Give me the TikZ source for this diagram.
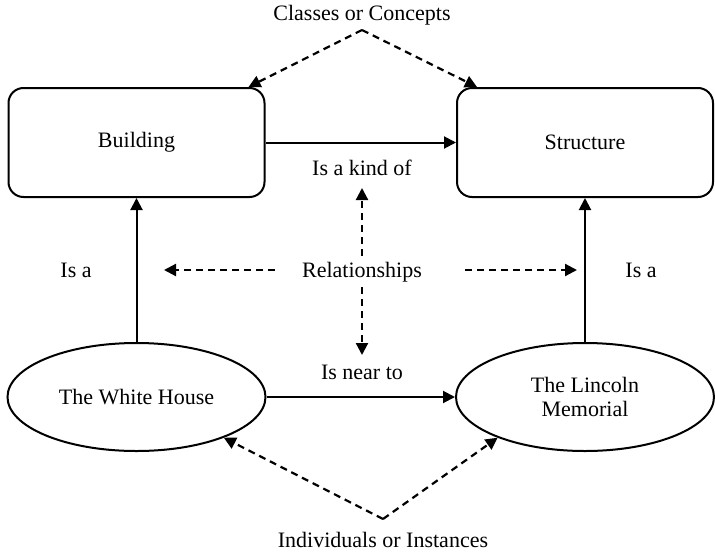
\documentclass[tikz,border=0pt]{standalone}
\usepackage{fontspec}
\setmainfont{Liberation Serif}
\usetikzlibrary{arrows.meta,shapes.geometric}
\begin{document}
\begin{tikzpicture}[x=1pt,y=-1pt,
  every node/.style={font=\fontsize{22}{24}\selectfont},
  concept/.style={draw, line width=2pt, rounded corners=15pt,
    minimum width=256pt, minimum height=109pt, inner sep=0pt},
  instance/.style={draw, ellipse, line width=2pt, minimum width=258pt,
    minimum height=108pt, inner sep=0pt, align=center},
  tag/.style={inner sep=0pt, anchor=base},
  link/.style={line width=2pt, -{Triangle[length=12pt,width=12pt]}},
  hint/.style={line width=2.2pt, dash pattern=on 7pt off 5pt,
    -{Triangle[length=12pt,width=12pt]}},
]
\useasboundingbox (0,0) rectangle (715,552);

% classes
\node[concept] (bld) at (136.5,142.5) {Building};
\node[concept] (str) at (585,142.5) {Structure};

% instances
\node[instance] (wh) at (136.5,397) {The White House};
\node[instance] (lm) at (585,397) {The Lincoln\\Memorial};

% labels
\node[tag] (cls)  at (362,20)  {Classes or Concepts};
\node[tag] (kind) at (362,175) {Is a kind of};
\node[tag] (rel)  at (362,277) {Relationships};
\node[tag] (isaL) at (76,277)  {Is a};
\node[tag] (isaR) at (641,277) {Is a};
\node[tag] (near) at (362,379) {Is near to};
\node[tag] (ind)  at (383,547) {Individuals or Instances};

% free ends of the dashed pointers
\coordinate (clsapex) at (362,30);
\coordinate (indapex) at (383,519);
\coordinate (relN0) at (362,256);
\coordinate (relN1) at (362,188);
\coordinate (relS0) at (362,287);
\coordinate (relS1) at (362,355);
\coordinate (relW0) at (275,270);
\coordinate (relW1) at (164,270);
\coordinate (relE0) at (465,270);
\coordinate (relE1) at (577,270);

% relations
\draw[link] (bld.east) -- (str.west);
\draw[link] (wh.east) -- (lm.west);
\draw[link] (wh.north) -- (bld.south);
\draw[link] (lm.north) -- (str.south);

% pointers
\draw[hint] (clsapex) -- ([xshift=-17pt]bld.north east);
\draw[hint] (clsapex) -- ([xshift=21pt]str.north west);
\draw[hint] (relN0) -- (relN1);
\draw[hint] (relS0) -- (relS1);
\draw[hint] (relW0) -- (relW1);
\draw[hint] (relE0) -- (relE1);
\draw[hint] (indapex) -- (wh.-25);
\draw[hint] (indapex) -- (lm.-155);
\end{tikzpicture}
\end{document}
